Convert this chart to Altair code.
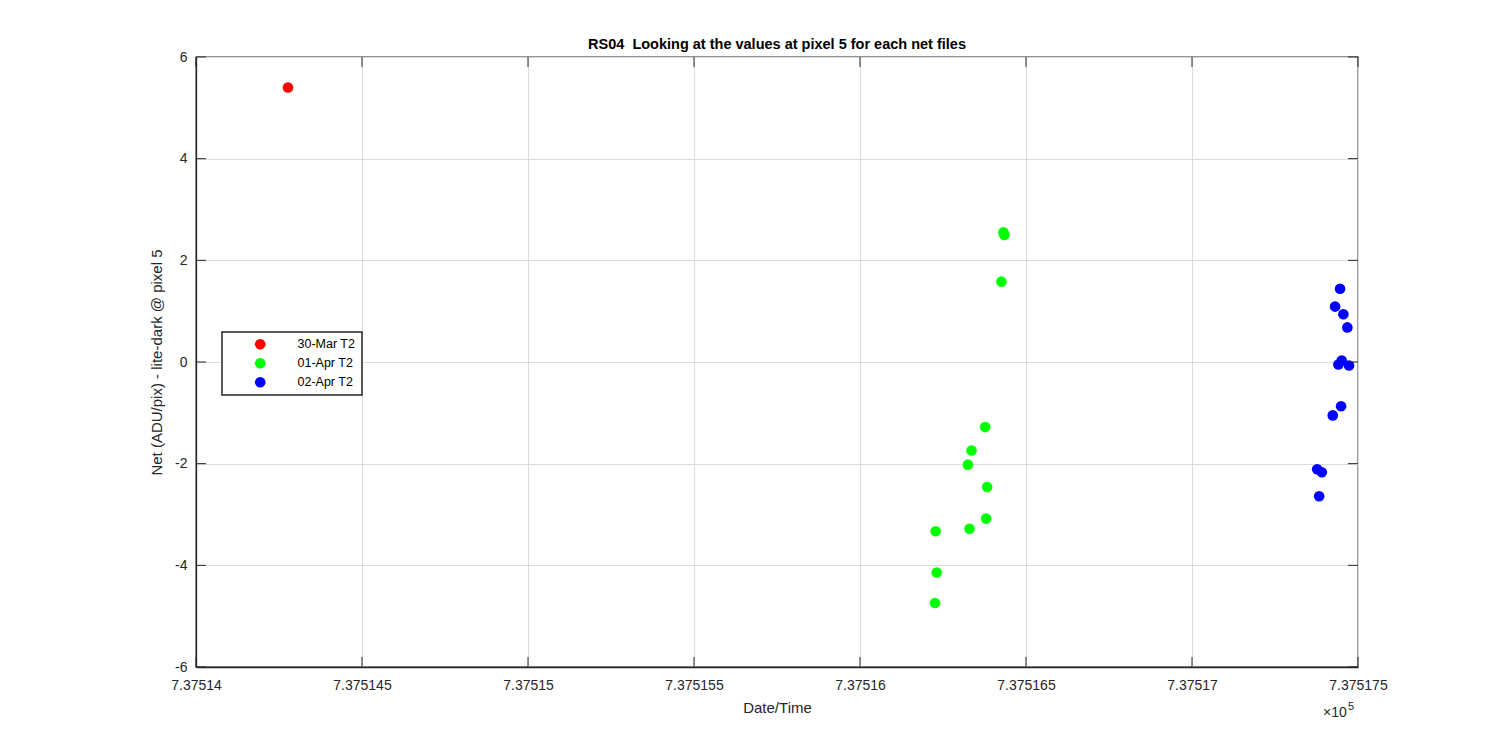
import altair as alt
import pandas as pd

# ---- data (x = MATLAB datenum, y = net value) ----
series_names = ["30-Mar T2", "01-Apr T2", "02-Apr T2"]
series_colors = ["#ff0000", "#00ff00", "#0000ff"]

mar30_t = [737514.277]
mar30_v = [5.40]

apr01_t = [737516.432, 737516.435, 737516.426, 737516.377, 737516.336, 737516.325,
           737516.383, 737516.380, 737516.330, 737516.228, 737516.231, 737516.226]
apr01_v = [2.55, 2.50, 1.58, -1.28, -1.74, -2.02, -2.46, -3.08, -3.28, -3.33, -4.14, -4.74]

apr02_t = [737517.446, 737517.431, 737517.456, 737517.468, 737517.451, 737517.441,
           737517.473, 737517.449, 737517.424, 737517.377, 737517.391, 737517.383]
apr02_v = [1.44, 1.09, 0.94, 0.68, 0.03, -0.05, -0.07, -0.87, -1.05, -2.11, -2.17, -2.64]

x_ticks = [737514.0, 737514.5, 737515.0, 737515.5, 737516.0, 737516.5, 737517.0, 737517.5]
y_ticks = [-6, -4, -2, 0, 2, 4, 6]

rows = []
for name, ts, vs in [(series_names[0], mar30_t, mar30_v),
                     (series_names[1], apr01_t, apr01_v),
                     (series_names[2], apr02_t, apr02_v)]:
    for t, v in zip(ts, vs):
        rows.append({"t": t, "v": v, "series": name})
df = pd.DataFrame(rows)

W, H = 1162, 610
FONT = "Liberation Sans"
INK = "#262626"
GRID = "#dcdcdc"

xscale = alt.Scale(domain=[x_ticks[0], x_ticks[-1]], nice=False, zero=False)
yscale = alt.Scale(domain=[y_ticks[0], y_ticks[-1]], nice=False, zero=False)

xaxis = alt.Axis(values=x_ticks, labelExpr="format(datum.value / 100000, '.7~f')",
                 title="Date/Time", grid=True, gridColor=GRID, ticks=False,
                 domainColor=INK, domainWidth=1.3, labelColor=INK, labelFontSize=14,
                 labelFont=FONT, labelPadding=11, titleFont=FONT, titleFontSize=15,
                 titleFontWeight="normal", titleColor=INK, titlePadding=8, labelFlush=False)
yaxis = alt.Axis(values=y_ticks, labelExpr="'' + datum.value",
                 title="Net (ADU/pix) - lite-dark @ pixel 5", grid=True, gridColor=GRID,
                 ticks=False, domainColor=INK, domainWidth=1.3, labelColor=INK,
                 labelFontSize=14, labelFont=FONT, labelPadding=9, titleFont=FONT,
                 titleFontSize=15, titleFontWeight="normal", titleColor=INK,
                 titlePadding=10, labelFlush=False)

points = alt.Chart(df).mark_circle(size=113, opacity=1).encode(
    x=alt.X("t:Q", scale=xscale, axis=xaxis),
    y=alt.Y("v:Q", scale=yscale, axis=yaxis),
    color=alt.Color("series:N",
                    scale=alt.Scale(domain=series_names, range=series_colors),
                    legend=alt.Legend(title=None, orient="none", legendX=26, legendY=275,
                                      strokeColor=INK, fillColor="white", padding=6,
                                      symbolType="circle", symbolSize=113,
                                      symbolOffset=26, labelOffset=31,
                                      labelFont=FONT, labelFontSize=12.5, labelColor="black",
                                      rowPadding=6, symbolStrokeWidth=0)),
)

xt = pd.DataFrame({"t": x_ticks})
yt = pd.DataFrame({"v": y_ticks})
TL = 10
xtick_b = alt.Chart(xt).mark_rule(color=INK).encode(
    x=alt.X("t:Q", scale=xscale, axis=xaxis), y=alt.value(H), y2=alt.value(H - TL))
xtick_t = alt.Chart(xt).mark_rule(color=INK).encode(
    x=alt.X("t:Q", scale=xscale, axis=xaxis), y=alt.value(0), y2=alt.value(TL))
ytick_l = alt.Chart(yt).mark_rule(color=INK).encode(
    y=alt.Y("v:Q", scale=yscale, axis=yaxis), x=alt.value(0), x2=alt.value(TL))
ytick_r = alt.Chart(yt).mark_rule(color=INK).encode(
    y=alt.Y("v:Q", scale=yscale, axis=yaxis), x=alt.value(W), x2=alt.value(W - TL))

exp_base = alt.Chart(pd.DataFrame({"a": [0]})).mark_text(
    text="\u00d710", font=FONT, fontSize=14, color=INK, align="left", baseline="alphabetic"
).encode(x=alt.value(W - 35), y=alt.value(H + 50))
exp_sup = alt.Chart(pd.DataFrame({"a": [0]})).mark_text(
    text="5", font=FONT, fontSize=11, color=INK, align="left", baseline="alphabetic"
).encode(x=alt.value(W - 10), y=alt.value(H + 43))

chart = alt.layer(points, xtick_b, xtick_t, ytick_l, ytick_r, exp_base, exp_sup).properties(
    width=W, height=H,
    title=alt.TitleParams("RS04\u00a0 Looking at the values at pixel 5 for each net files",
                          font=FONT, fontSize=14.5, fontWeight="bold", color="black",
                          anchor="middle", offset=-2),
    autosize=alt.AutoSizeParams(type="none"),
    padding={"left": 188, "top": 49, "right": 134, "bottom": 75},
    background="white",
).configure_view(stroke=INK, strokeWidth=1.3).configure_legend(strokeWidth=1.5)

chart.save("out.html", embed_options={"renderer": "svg", "actions": False})
